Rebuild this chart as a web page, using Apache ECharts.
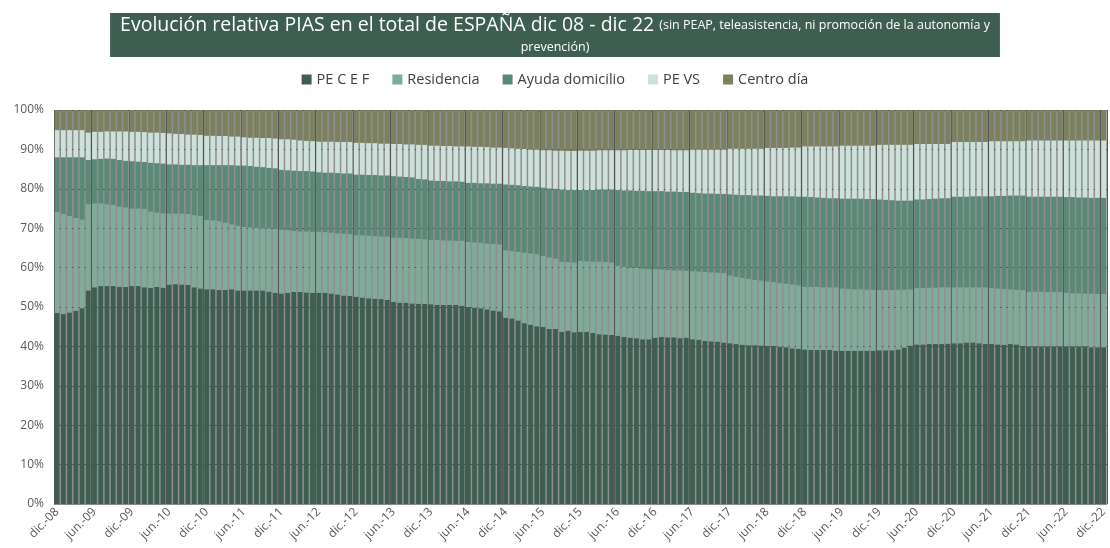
<!DOCTYPE html>
<html>
<head>
<meta charset="utf-8">
<script src="https://cdn.jsdelivr.net/npm/echarts@6/dist/echarts.min.js"></script>
<style>
  html, body { margin: 0; padding: 0; background: #fff; }
  #chart { width: 1110px; height: 548px; }
</style>
</head>
<body>
<div id="chart"></div>
<script>
// categorias mensuales dic-08 .. dic-22
const meses = ['ene.', 'feb.', 'mar.', 'abr.', 'may.', 'jun.', 'jul.', 'ago.', 'sep.', 'oct.', 'nov.', 'dic.'];
const categorias = ['dic.-08'];
for (let y = 9; y <= 22; y++) {
  for (const m of meses) categorias.push(m + '-' + String(y).padStart(2, '0'));
}

const series_nombres = ['PE C E F', 'Residencia', 'Ayuda domicilio', 'PE VS', 'Centro día'];

// % sobre el total
const peCef = [
  48.5, 48.2, 48.6, 49.0, 49.7, 54.2, 55.0, 55.3, 55.3, 55.3, 55.1, 55.1,
  55.3, 55.3, 55.0, 54.8, 55.1, 54.9, 55.7, 55.8, 55.7, 55.6, 55.0, 54.7,
  54.5, 54.5, 54.3, 54.3, 54.5, 54.2, 54.2, 54.2, 54.2, 54.2, 53.9, 53.6,
  53.4, 53.6, 53.8, 53.8, 53.7, 53.6, 53.6, 53.6, 53.4, 53.2, 52.9, 52.8,
  52.6, 52.4, 52.2, 52.1, 52.0, 51.8, 51.3, 51.1, 51.1, 50.9, 50.8, 50.8,
  50.7, 50.5, 50.5, 50.5, 50.5, 50.3, 50.0, 49.8, 49.7, 49.4, 49.1, 48.9,
  47.3, 47.1, 46.6, 45.9, 45.5, 45.1, 44.9, 44.4, 44.4, 43.7, 44.0, 43.6,
  43.7, 43.7, 43.4, 43.1, 43.0, 42.9, 42.7, 42.4, 42.2, 42.1, 41.8, 41.8,
  42.2, 42.4, 42.3, 42.3, 42.1, 42.2, 41.8, 41.7, 41.4, 41.3, 41.2, 41.0,
  40.8, 40.6, 40.4, 40.3, 40.3, 40.2, 40.1, 40.1, 39.9, 39.8, 39.5, 39.4,
  39.2, 39.1, 39.1, 39.1, 39.1, 38.9, 38.9, 38.9, 38.9, 38.9, 38.9, 38.9,
  39.0, 39.0, 39.0, 39.2, 39.7, 40.2, 40.5, 40.5, 40.6, 40.6, 40.6, 40.7,
  40.8, 40.8, 41.0, 41.0, 40.8, 40.6, 40.6, 40.5, 40.4, 40.6, 40.5, 40.1,
  40.0, 40.0, 40.0, 40.0, 40.0, 40.0, 40.0, 40.0, 40.0, 40.0, 39.8, 39.8,
  39.8
];
const residencia = [
  25.6, 25.4, 24.5, 23.6, 22.5, 21.9, 21.3, 21.0, 20.8, 20.6, 20.4, 20.2,
  19.7, 19.7, 19.9, 19.4, 18.9, 18.9, 18.0, 17.9, 18.0, 18.0, 18.3, 18.4,
  17.6, 17.5, 17.5, 17.1, 16.5, 16.4, 16.1, 16.0, 15.9, 15.8, 16.1, 16.3,
  16.2, 15.9, 15.5, 15.4, 15.5, 15.5, 15.5, 15.4, 15.5, 15.5, 15.7, 15.7,
  15.6, 15.8, 15.9, 15.9, 15.9, 16.1, 16.3, 16.5, 16.4, 16.5, 16.5, 16.4,
  16.3, 16.5, 16.4, 16.4, 16.3, 16.5, 16.5, 16.6, 16.6, 16.7, 16.9, 17.0,
  17.1, 17.1, 17.4, 17.9, 18.1, 18.3, 18.1, 18.2, 17.9, 17.8, 17.4, 17.7,
  18.0, 17.9, 18.1, 18.4, 18.4, 18.4, 17.7, 17.8, 17.8, 17.8, 17.9, 17.8,
  17.4, 17.1, 17.1, 17.0, 17.2, 17.0, 17.3, 17.3, 17.5, 17.5, 17.5, 17.6,
  17.2, 17.1, 17.0, 16.8, 16.6, 16.5, 16.4, 16.2, 16.2, 16.1, 16.2, 16.1,
  15.9, 16.0, 16.0, 15.9, 15.9, 16.1, 15.8, 15.7, 15.6, 15.6, 15.5, 15.5,
  15.3, 15.3, 15.3, 15.2, 14.7, 14.3, 14.3, 14.3, 14.3, 14.3, 14.4, 14.3,
  14.2, 14.2, 14.0, 14.0, 14.2, 14.4, 14.2, 14.2, 14.2, 13.9, 13.9, 14.2,
  13.9, 13.9, 13.9, 13.8, 13.8, 13.8, 13.6, 13.5, 13.5, 13.4, 13.6, 13.5,
  13.5
];
const ayudaDomicilio = [
  13.9, 14.4, 14.9, 15.4, 15.8, 11.2, 11.2, 11.3, 11.6, 11.7, 11.8, 11.8,
  12.0, 11.9, 11.9, 12.4, 12.5, 12.6, 12.5, 12.5, 12.4, 12.5, 12.7, 12.9,
  13.9, 14.0, 14.2, 14.6, 15.0, 15.3, 15.6, 15.6, 15.5, 15.5, 15.3, 15.3,
  15.2, 15.2, 15.3, 15.3, 15.3, 15.3, 15.1, 15.1, 15.2, 15.3, 15.3, 15.4,
  15.4, 15.4, 15.4, 15.5, 15.5, 15.5, 15.6, 15.5, 15.5, 15.5, 15.2, 15.2,
  15.1, 15.0, 15.1, 15.0, 15.1, 15.0, 15.0, 15.1, 15.1, 15.3, 15.3, 15.4,
  16.7, 16.8, 16.9, 16.9, 17.0, 17.1, 17.3, 17.5, 17.7, 18.3, 18.3, 18.4,
  18.0, 18.1, 18.2, 18.3, 18.4, 18.5, 19.3, 19.4, 19.6, 19.6, 19.8, 19.8,
  19.8, 19.9, 19.9, 20.0, 19.9, 20.0, 19.9, 19.9, 19.9, 20.0, 20.0, 20.1,
  20.6, 20.8, 21.0, 21.3, 21.4, 21.6, 21.7, 21.8, 22.0, 22.2, 22.4, 22.5,
  22.9, 22.8, 22.7, 22.7, 22.6, 22.6, 22.8, 22.9, 23.0, 23.0, 23.0, 23.0,
  23.0, 22.9, 22.8, 22.6, 22.6, 22.5, 22.5, 22.5, 22.5, 22.6, 22.6, 22.6,
  23.0, 23.0, 23.0, 23.1, 23.1, 23.1, 23.3, 23.5, 23.6, 23.8, 23.9, 24.0,
  24.1, 24.1, 24.1, 24.2, 24.2, 24.2, 24.3, 24.4, 24.3, 24.4, 24.3, 24.4,
  24.4
];
const peVs = [
  6.9, 6.9, 6.9, 6.9, 6.9, 7.0, 7.0, 6.9, 6.9, 7.0, 7.3, 7.5,
  7.5, 7.6, 7.6, 7.7, 7.8, 7.8, 7.9, 7.8, 7.8, 7.7, 7.8, 7.7,
  7.5, 7.5, 7.4, 7.4, 7.3, 7.4, 7.2, 7.2, 7.4, 7.4, 7.6, 7.6,
  7.8, 7.9, 7.9, 7.8, 7.7, 7.7, 7.8, 7.9, 7.9, 7.9, 8.0, 8.0,
  8.1, 8.1, 8.1, 8.1, 8.1, 8.1, 8.2, 8.3, 8.3, 8.4, 8.7, 8.8,
  8.9, 9.0, 8.9, 9.0, 8.9, 9.0, 9.3, 9.2, 9.3, 9.2, 9.2, 9.2,
  9.3, 9.3, 9.3, 9.4, 9.4, 9.5, 9.5, 9.7, 9.7, 9.9, 9.9, 9.9,
  10.0, 10.0, 10.0, 10.0, 10.0, 10.0, 10.1, 10.2, 10.3, 10.4, 10.4, 10.5,
  10.5, 10.5, 10.6, 10.5, 10.6, 10.6, 11.0, 11.1, 11.2, 11.2, 11.3, 11.3,
  11.6, 11.7, 11.8, 11.8, 11.9, 11.9, 12.2, 12.3, 12.3, 12.3, 12.4, 12.5,
  12.8, 12.9, 13.0, 13.1, 13.2, 13.2, 13.5, 13.5, 13.5, 13.5, 13.6, 13.6,
  13.9, 14.0, 14.1, 14.2, 14.2, 14.2, 14.1, 14.1, 14.0, 13.9, 13.8, 13.8,
  13.9, 13.9, 13.9, 13.8, 13.8, 13.8, 14.0, 13.9, 13.9, 13.8, 13.8, 13.8,
  14.3, 14.3, 14.3, 14.3, 14.3, 14.3, 14.4, 14.4, 14.5, 14.5, 14.6, 14.6,
  14.6
];
const centroDia = [
  5.1, 5.1, 5.1, 5.1, 5.1, 5.7, 5.5, 5.5, 5.4, 5.4, 5.4, 5.4,
  5.5, 5.5, 5.6, 5.7, 5.7, 5.8, 5.9, 6.0, 6.1, 6.2, 6.2, 6.3,
  6.5, 6.5, 6.6, 6.6, 6.7, 6.7, 6.9, 7.0, 7.0, 7.1, 7.1, 7.2,
  7.4, 7.4, 7.5, 7.7, 7.8, 7.9, 8.0, 8.0, 8.0, 8.1, 8.1, 8.1,
  8.3, 8.3, 8.4, 8.4, 8.5, 8.5, 8.6, 8.6, 8.7, 8.7, 8.8, 8.8,
  9.0, 9.0, 9.1, 9.1, 9.2, 9.2, 9.2, 9.3, 9.3, 9.4, 9.5, 9.5,
  9.6, 9.7, 9.8, 9.9, 10.0, 10.0, 10.2, 10.2, 10.3, 10.3, 10.4, 10.4,
  10.3, 10.3, 10.3, 10.2, 10.2, 10.2, 10.2, 10.2, 10.1, 10.1, 10.1, 10.1,
  10.1, 10.1, 10.1, 10.2, 10.2, 10.2, 10.0, 10.0, 10.0, 10.0, 10.0, 10.0,
  9.8, 9.8, 9.8, 9.8, 9.8, 9.8, 9.6, 9.6, 9.6, 9.6, 9.5, 9.5,
  9.2, 9.2, 9.2, 9.2, 9.2, 9.2, 9.0, 9.0, 9.0, 9.0, 9.0, 9.0,
  8.8, 8.8, 8.8, 8.8, 8.8, 8.8, 8.6, 8.6, 8.6, 8.6, 8.6, 8.6,
  8.1, 8.1, 8.1, 8.1, 8.1, 8.1, 7.9, 7.9, 7.9, 7.9, 7.9, 7.9,
  7.7, 7.7, 7.7, 7.7, 7.7, 7.7, 7.7, 7.7, 7.7, 7.7, 7.7, 7.7,
  7.7
];

const yTicks = [0, 10, 20, 30, 40, 50, 60, 70, 80, 90, 100];

const colores = ['#3e5e51', '#80aa9a', '#5b8977', '#cde0da', '#7b815e'];
const fuente = "'Open Sans', 'Noto Sans', sans-serif";

const chart = echarts.init(document.getElementById('chart'));
const datos = [peCef, residencia, ayudaDomicilio, peVs, centroDia];

chart.setOption({
  animation: false,
  color: colores,
  title: {
    text: '{a|Evolución relativa PIAS en el total de ESPAÑA dic 08 - dic 22} {b|(sin PEAP, teleasistencia, ni promoción de la autonomía y}\n{b|prevención)}',
    left: 'center',
    top: 10,
    backgroundColor: '#3e5e51',
    padding: [2, 10, 3, 10],
    textStyle: {
      rich: {
        a: { fontSize: 19.5, fontWeight: 'normal', color: '#fff', fontFamily: fuente, lineHeight: 26, align: 'center' },
        b: { fontSize: 12.5, fontWeight: 'normal', color: '#fff', fontFamily: fuente, lineHeight: 19, align: 'center' }
      }
    }
  },
  legend: {
    top: 67,
    left: 'center',
    icon: 'rect',
    itemWidth: 10,
    itemHeight: 10,
    itemGap: 23,
    textStyle: { fontSize: 14.5, color: '#404040', fontFamily: fuente },
    data: series_nombres
  },
  grid: {
    left: 54,
    right: 2,
    top: 110,
    bottom: 44,
    show: true,
    backgroundColor: '#8f8f8f',
    borderWidth: 0
  },
  xAxis: {
    type: 'category',
    data: categorias,
    axisLine: { lineStyle: { color: '#8c8c8c' } },
    axisTick: { show: false },
    axisLabel: {
      interval: 5,
      rotate: 45,
      fontSize: 12,
      color: '#595959',
      fontFamily: fuente,
      margin: 6
    },
    splitLine: {
      show: true,
      interval: 5,
      lineStyle: { color: '#555555', width: 1 }
    }
  },
  yAxis: {
    type: 'value',
    min: yTicks[0],
    max: yTicks[yTicks.length - 1],
    interval: 10,
    axisLabel: {
      formatter: '{value}%',
      fontSize: 12,
      color: '#595959',
      fontFamily: fuente,
      margin: 10
    },
    axisLine: { show: false },
    axisTick: { show: false },
    splitLine: { lineStyle: { color: '#555555', width: 1 } }
  },
  series: series_nombres.map((nombre, i) => ({
    name: nombre,
    type: 'bar',
    stack: 'total',
    barCategoryGap: '24%',
    data: datos[i]
  }))
});
</script>
</body>
</html>
